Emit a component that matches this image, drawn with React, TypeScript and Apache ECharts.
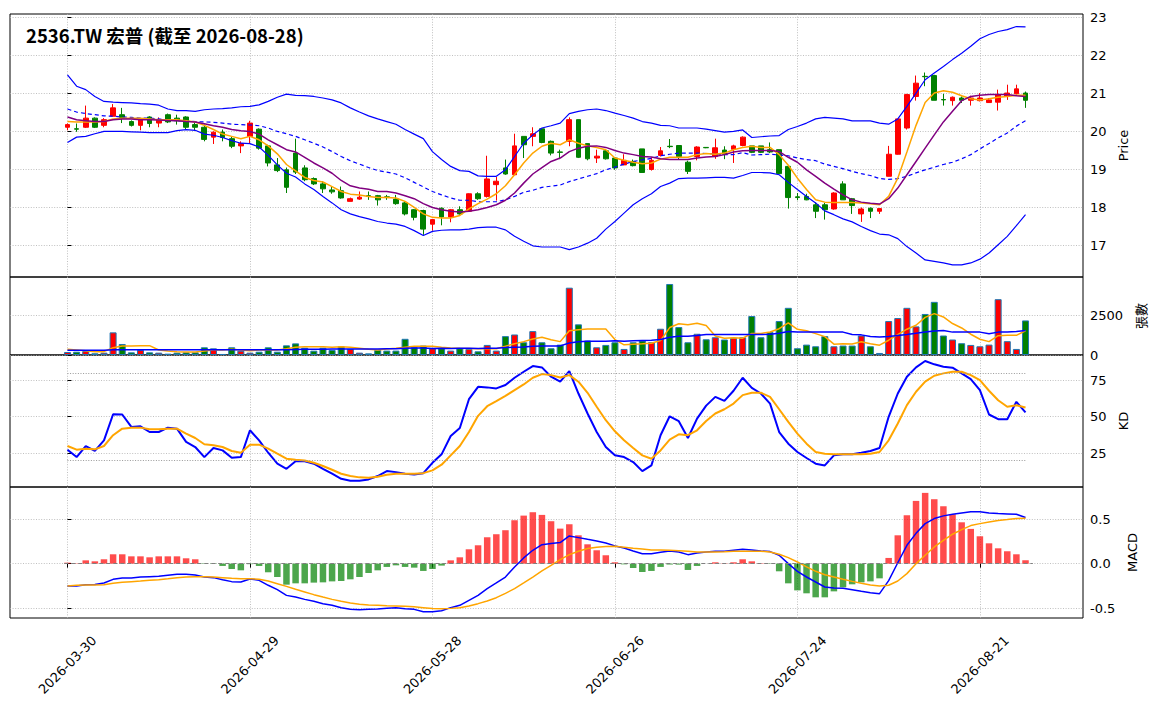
import React, { useEffect, useRef } from 'react';
import * as echarts from 'echarts';

const TITLE = '2536.TW 宏普 (截至 2026-08-28)';
const TICK_INDEX = [0, 20, 40, 60, 80, 100];
const TICK_LABELS = ['2026-03-30', '2026-04-29', '2026-05-28', '2026-06-26', '2026-07-24', '2026-08-21'];
const PRICE_TICKS = [17, 18, 19, 20, 21, 22, 23];
const VOL_TICKS = [0, 2500];
const KD_TICKS = [25, 50, 75];
const MACD_TICKS = [-0.5, 0, 0.5];

const OPEN = [
  20.10, 20.06, 20.10, 20.34, 20.15, 20.39, 20.43, 20.25, 20.15, 20.37,
  20.21, 20.43, 20.34, 20.37, 20.17, 20.10, 19.84, 19.97, 19.80, 19.61,
  19.86, 20.05, 19.61, 19.11, 18.98, 19.42, 19.03, 18.75, 18.61, 18.45,
  18.43, 18.15, 18.21, 18.30, 18.30, 18.27, 18.21, 18.11, 17.93, 17.91,
  17.55, 17.97, 17.74, 17.93, 17.89, 18.35, 18.28, 18.59, 19.03, 18.85,
  19.86, 19.86, 20.06, 19.73, 19.45, 19.73, 20.30, 19.67, 19.29, 19.48,
  19.29, 19.11, 19.20, 19.53, 18.99, 19.36, 19.60, 19.62, 19.18, 19.33,
  19.57, 19.33, 19.50, 19.52, 19.62, 19.61, 19.61, 19.51, 19.51, 19.07,
  18.27, 18.28, 18.06, 18.06, 17.95, 18.61, 18.22, 17.82, 17.97, 17.89,
  18.81, 19.39, 20.08, 20.91, 21.44, 21.46, 20.83, 20.80, 20.87, 20.81,
  20.80, 20.75, 20.76, 20.91, 20.98, 21.00,
];
const CLOSE = [
  20.17, 20.05, 20.34, 20.10, 20.30, 20.61, 20.36, 20.15, 20.30, 20.20,
  20.30, 20.24, 20.27, 20.10, 20.10, 19.78, 19.97, 19.83, 19.60, 19.67,
  20.21, 19.55, 19.16, 18.96, 18.52, 18.92, 18.72, 18.61, 18.48, 18.40,
  18.24, 18.22, 18.26, 18.28, 18.19, 18.25, 18.09, 17.82, 17.73, 17.42,
  17.67, 17.74, 17.93, 17.82, 18.35, 18.22, 18.74, 18.68, 18.87, 19.61,
  19.64, 19.93, 19.70, 19.42, 19.44, 20.30, 19.31, 19.27, 19.34, 19.27,
  19.03, 19.23, 19.09, 18.91, 19.23, 19.48, 19.59, 19.33, 18.94, 19.58,
  19.56, 19.56, 19.39, 19.61, 19.84, 19.44, 19.44, 19.45, 18.88, 18.25,
  18.25, 18.19, 17.89, 17.93, 18.37, 18.19, 18.04, 17.95, 17.89, 17.96,
  19.39, 20.32, 20.96, 21.26, 21.43, 20.81, 20.82, 20.89, 20.81, 20.87,
  20.87, 20.82, 20.96, 21.00, 21.11, 20.81,
];
const LOW = [
  20.02, 19.98, 20.08, 20.08, 20.10, 20.38, 20.21, 20.12, 20.02, 20.10,
  20.10, 20.21, 20.17, 20.04, 20.01, 19.73, 19.66, 19.73, 19.55, 19.42,
  19.68, 19.51, 19.07, 18.92, 18.37, 18.87, 18.68, 18.58, 18.37, 18.35,
  18.22, 18.15, 18.19, 18.19, 18.04, 18.19, 18.06, 17.78, 17.65, 17.27,
  17.38, 17.52, 17.60, 17.80, 17.87, 18.19, 18.25, 18.17, 18.85, 18.85,
  19.29, 19.60, 19.68, 19.36, 19.26, 19.60, 19.29, 19.23, 19.16, 19.25,
  18.98, 19.10, 19.07, 18.91, 18.96, 19.33, 19.55, 19.24, 18.87, 19.23,
  19.55, 19.27, 19.26, 19.16, 19.60, 19.42, 19.42, 19.42, 18.85, 17.96,
  18.18, 18.18, 17.71, 17.67, 17.93, 18.19, 17.82, 17.61, 17.71, 17.82,
  18.81, 19.38, 20.04, 20.80, 21.18, 20.81, 20.67, 20.67, 20.74, 20.67,
  20.78, 20.74, 20.54, 20.82, 20.96, 20.61,
];
const HIGH = [
  20.20, 20.20, 20.67, 20.36, 20.34, 20.71, 20.61, 20.28, 20.34, 20.39,
  20.36, 20.46, 20.43, 20.39, 20.23, 20.17, 19.99, 20.04, 19.86, 19.73,
  20.27, 20.07, 19.64, 19.29, 19.04, 19.80, 19.10, 18.78, 18.68, 18.54,
  18.54, 18.25, 18.41, 18.41, 18.32, 18.32, 18.32, 18.15, 17.95, 17.93,
  17.69, 17.99, 17.95, 18.02, 18.36, 18.39, 19.35, 18.79, 19.25, 19.93,
  19.86, 20.10, 20.08, 19.75, 19.51, 20.36, 20.30, 19.68, 19.51, 19.51,
  19.31, 19.39, 19.25, 19.53, 19.31, 19.58, 19.79, 19.63, 19.22, 19.60,
  19.58, 19.80, 19.60, 19.64, 19.86, 19.61, 19.61, 19.70, 19.51, 19.07,
  18.37, 18.35, 18.12, 18.11, 18.39, 18.68, 18.24, 17.99, 17.99, 17.96,
  19.61, 20.32, 20.98, 21.46, 21.54, 21.48, 20.98, 20.91, 20.91, 20.93,
  21.00, 20.87, 21.09, 21.22, 21.22, 21.04,
];
const BB_UP = [
  21.48, 21.18, 21.09, 20.91, 20.78, 20.76, 20.75, 20.74, 20.72, 20.71,
  20.68, 20.58, 20.54, 20.54, 20.52, 20.56, 20.58, 20.59, 20.61, 20.64,
  20.65, 20.69, 20.78, 20.89, 20.97, 20.94, 20.93, 20.91, 20.87, 20.82,
  20.74, 20.61, 20.50, 20.40, 20.32, 20.25, 20.18, 20.04, 19.92, 19.80,
  19.46, 19.25, 19.07, 18.96, 18.94, 18.82, 18.81, 18.81, 18.98, 19.33,
  19.68, 19.90, 20.08, 20.14, 20.21, 20.46, 20.52, 20.56, 20.58, 20.54,
  20.47, 20.41, 20.34, 20.25, 20.21, 20.15, 20.14, 20.08, 20.08, 20.08,
  20.05, 20.01, 19.97, 19.99, 20.03, 19.83, 19.85, 19.87, 19.88, 20.04,
  20.12, 20.21, 20.32, 20.36, 20.34, 20.32, 20.27, 20.27, 20.27, 20.21,
  20.18, 20.32, 20.65, 21.00, 21.35, 21.53, 21.70, 21.88, 22.05, 22.23,
  22.43, 22.54, 22.62, 22.67, 22.75, 22.74,
];
const BB_MID = [
  20.58, 20.50, 20.46, 20.43, 20.40, 20.39, 20.37, 20.36, 20.34, 20.34,
  20.32, 20.29, 20.27, 20.27, 20.25, 20.24, 20.23, 20.21, 20.18, 20.17,
  20.16, 20.14, 20.08, 19.99, 19.93, 19.86, 19.77, 19.68, 19.58, 19.46,
  19.33, 19.22, 19.13, 19.04, 18.96, 18.92, 18.87, 18.77, 18.65, 18.53,
  18.41, 18.32, 18.24, 18.18, 18.18, 18.14, 18.14, 18.14, 18.19, 18.28,
  18.39, 18.44, 18.52, 18.55, 18.58, 18.67, 18.74, 18.81, 18.88, 18.98,
  19.05, 19.13, 19.20, 19.24, 19.28, 19.35, 19.39, 19.42, 19.42, 19.42,
  19.41, 19.40, 19.38, 19.38, 19.43, 19.37, 19.38, 19.39, 19.37, 19.35,
  19.29, 19.25, 19.22, 19.13, 19.07, 19.01, 18.94, 18.88, 18.83, 18.75,
  18.73, 18.75, 18.81, 18.90, 18.98, 19.05, 19.12, 19.18, 19.27, 19.38,
  19.53, 19.67, 19.82, 19.95, 20.13, 20.27,
];
const BB_LO = [
  19.70, 19.84, 19.86, 19.93, 19.99, 19.99, 19.99, 19.98, 19.97, 19.96,
  19.96, 19.96, 20.01, 20.04, 20.02, 19.92, 19.89, 19.83, 19.75, 19.68,
  19.67, 19.58, 19.36, 19.11, 18.89, 18.79, 18.61, 18.46, 18.28, 18.11,
  17.93, 17.82, 17.75, 17.69, 17.62, 17.58, 17.55, 17.49, 17.38, 17.25,
  17.36, 17.39, 17.40, 17.40, 17.42, 17.46, 17.47, 17.47, 17.40, 17.23,
  17.10, 16.98, 16.95, 16.95, 16.95, 16.88, 16.95, 17.05, 17.18, 17.42,
  17.62, 17.84, 18.06, 18.22, 18.35, 18.54, 18.63, 18.75, 18.76, 18.76,
  18.77, 18.78, 18.78, 18.76, 18.83, 18.91, 18.91, 18.90, 18.85, 18.65,
  18.46, 18.28, 18.11, 17.90, 17.80, 17.69, 17.61, 17.49, 17.38, 17.29,
  17.27, 17.17, 16.96, 16.79, 16.61, 16.57, 16.53, 16.48, 16.48, 16.53,
  16.63, 16.79, 17.01, 17.23, 17.51, 17.80,
];
const MA5 = [
  20.25, 20.24, 20.24, 20.24, 20.25, 20.32, 20.34, 20.34, 20.34, 20.32,
  20.30, 20.30, 20.30, 20.27, 20.24, 20.15, 20.04, 19.92, 19.86, 19.80,
  19.86, 19.77, 19.61, 19.40, 19.12, 18.95, 18.78, 18.70, 18.66, 18.54,
  18.41, 18.34, 18.32, 18.28, 18.25, 18.25, 18.24, 18.15, 17.99, 17.82,
  17.73, 17.71, 17.71, 17.78, 17.95, 18.09, 18.21, 18.35, 18.56, 18.85,
  19.16, 19.42, 19.60, 19.68, 19.64, 19.77, 19.68, 19.61, 19.57, 19.51,
  19.29, 19.23, 19.18, 19.14, 19.16, 19.26, 19.31, 19.31, 19.31, 19.38,
  19.41, 19.39, 19.42, 19.51, 19.57, 19.60, 19.57, 19.57, 19.38, 19.10,
  18.76, 18.46, 18.19, 18.13, 18.12, 18.12, 18.12, 18.11, 18.09, 18.06,
  18.28, 18.76, 19.45, 20.15, 20.75, 21.00, 21.06, 21.02, 20.93, 20.85,
  20.82, 20.85, 20.89, 20.91, 20.94, 20.94,
];
const MA10 = [
  20.37, 20.30, 20.27, 20.25, 20.25, 20.30, 20.32, 20.32, 20.30, 20.30,
  20.29, 20.28, 20.27, 20.25, 20.24, 20.19, 20.14, 20.10, 20.04, 20.01,
  19.99, 19.92, 19.77, 19.64, 19.51, 19.45, 19.31, 19.16, 19.03, 18.89,
  18.70, 18.56, 18.50, 18.47, 18.41, 18.41, 18.37, 18.30, 18.22, 18.09,
  17.99, 17.93, 17.89, 17.87, 17.89, 17.93, 17.99, 18.06, 18.18, 18.37,
  18.63, 18.87, 19.04, 19.20, 19.29, 19.46, 19.55, 19.60, 19.61, 19.57,
  19.49, 19.42, 19.38, 19.33, 19.32, 19.27, 19.25, 19.25, 19.25, 19.29,
  19.32, 19.33, 19.38, 19.45, 19.48, 19.49, 19.49, 19.49, 19.46, 19.31,
  19.18, 18.98, 18.81, 18.63, 18.47, 18.32, 18.19, 18.13, 18.10, 18.08,
  18.22, 18.50, 18.85, 19.20, 19.55, 19.90, 20.24, 20.52, 20.80, 20.91,
  20.94, 20.96, 20.96, 20.96, 20.93, 20.91,
];
const VOL = [
  190, 210, 255, 110, 150, 1440, 700, 170, 320, 170,
  150, 85, 150, 170, 170, 490, 425, 65, 490, 275,
  150, 210, 490, 210, 615, 740, 465, 275, 465, 320,
  550, 380, 150, 105, 320, 280, 280, 1030, 490, 600,
  430, 430, 280, 430, 385, 235, 640, 280, 1200, 1305,
  810, 1520, 810, 430, 660, 4280, 1950, 920, 490, 640,
  810, 385, 810, 920, 810, 1670, 4515, 1775, 810, 1350,
  1000, 1130, 985, 1090, 1130, 2480, 1130, 1455, 2160, 3000,
  430, 660, 555, 1200, 555, 600, 600, 1240, 555, 130,
  2160, 2350, 3000, 1820, 2610, 3380, 1240, 985, 750, 640,
  555, 660, 3550, 880, 385, 2200,
];
const VOL_MA5 = [
  360, 318, 275, 212, 212, 466, 572, 572, 594, 594,
  318, 254, 212, 190, 190, 254, 318, 318, 360, 318,
  275, 318, 318, 318, 400, 488, 530, 530, 530, 488,
  530, 488, 424, 360, 318, 385, 428, 492, 556, 556,
  556, 492, 450, 428, 420, 400, 420, 400, 556, 720,
  850, 1020, 1130, 975, 850, 1540, 1600, 1650, 1660, 1656,
  980, 650, 680, 710, 745, 920, 1745, 1990, 1930, 2020,
  1880, 1210, 1060, 1090, 1070, 1365, 1365, 1460, 1670, 2045,
  1635, 1541, 1361, 1170, 690, 714, 702, 839, 710, 625,
  940, 1290, 1640, 1890, 2390, 2630, 2420, 2000, 1720, 1320,
  1000, 850, 1230, 1260, 1250, 1540,
];
const VOL_MA20 = [
  300, 300, 300, 300, 300, 330, 335, 335, 335, 335,
  335, 335, 335, 335, 335, 335, 335, 335, 335, 330,
  330, 330, 330, 335, 340, 350, 360, 365, 370, 375,
  380, 385, 380, 380, 380, 400, 405, 430, 440, 445,
  420, 425, 420, 430, 425, 420, 430, 430, 470, 500,
  510, 560, 570, 570, 580, 760, 840, 870, 880, 880,
  900, 880, 900, 920, 940, 980, 1130, 1190, 1200, 1240,
  1300, 1300, 1300, 1300, 1310, 1300, 1300, 1320, 1390, 1500,
  1455, 1455, 1455, 1455, 1455, 1455, 1300, 1280, 1180, 1150,
  1170, 1240, 1305, 1390, 1455, 1520, 1560, 1455, 1455, 1455,
  1455, 1350, 1455, 1455, 1500, 1560,
];
const K = [
  27.3, 22.2, 29.8, 26.4, 33.7, 51.6, 51.4, 42.9, 43.3, 39.4,
  39.4, 42.4, 41.7, 32.6, 29.1, 22.2, 28.4, 26.8, 21.8, 22.2,
  40.6, 33.7, 25.2, 17.7, 14.2, 19.3, 19.3, 17.7, 14.2, 10.8,
  7.3, 6.0, 6.0, 6.9, 9.2, 12.6, 11.9, 10.8, 10.3, 11.2,
  18.3, 24.1, 36.7, 42.2, 61.9, 70.4, 70.0, 69.3, 71.6, 76.6,
  80.7, 84.6, 83.7, 77.3, 73.9, 81.2, 65.8, 52.1, 39.4, 29.1,
  23.4, 22.2, 18.8, 12.6, 16.5, 37.2, 50.2, 46.8, 35.3, 48.6,
  57.5, 63.5, 60.8, 67.7, 76.6, 69.7, 65.8, 58.9, 39.4, 31.4,
  25.7, 21.6, 17.7, 16.5, 23.4, 24.1, 24.1, 25.2, 26.4, 28.4,
  49.8, 65.8, 77.3, 83.7, 88.1, 85.8, 84.2, 83.5, 79.6, 75.7,
  68.1, 51.4, 48.2, 48.2, 60.1, 52.8,
];
const D = [
  29.8, 27.3, 28.0, 27.5, 29.8, 37.2, 41.7, 42.4, 42.4, 41.3,
  41.3, 41.7, 41.7, 38.3, 35.3, 31.0, 30.3, 29.1, 26.4, 25.2,
  30.7, 30.7, 28.0, 24.5, 21.1, 20.4, 19.9, 18.3, 16.1, 13.5,
  10.8, 9.2, 8.3, 8.0, 8.7, 10.1, 10.8, 10.8, 10.8, 11.2,
  13.1, 17.0, 23.4, 29.8, 39.4, 50.5, 57.1, 60.6, 64.2, 68.1,
  72.0, 76.6, 79.1, 78.4, 76.8, 78.4, 73.9, 66.3, 56.7, 47.5,
  39.9, 33.7, 28.4, 23.4, 21.1, 26.8, 34.2, 37.8, 37.2, 40.6,
  46.9, 52.1, 55.0, 58.9, 64.7, 66.3, 66.3, 63.5, 55.0, 46.3,
  38.3, 31.4, 25.7, 24.5, 24.1, 24.1, 24.1, 24.1, 24.5, 25.7,
  33.7, 45.2, 57.8, 67.0, 73.9, 78.0, 79.6, 80.7, 80.7, 78.4,
  75.0, 67.7, 61.2, 56.7, 57.8, 56.2,
];
const DIF = [
  -0.251, -0.251, -0.236, -0.233, -0.217, -0.176, -0.161, -0.161, -0.150, -0.146,
  -0.142, -0.131, -0.120, -0.120, -0.127, -0.150, -0.157, -0.180, -0.202, -0.206,
  -0.172, -0.187, -0.243, -0.292, -0.356, -0.375, -0.401, -0.423, -0.449, -0.468,
  -0.494, -0.513, -0.517, -0.513, -0.509, -0.500, -0.494, -0.506, -0.513, -0.539,
  -0.539, -0.528, -0.494, -0.468, -0.412, -0.356, -0.281, -0.217, -0.150, -0.037,
  0.064, 0.150, 0.213, 0.225, 0.236, 0.311, 0.292, 0.273, 0.255, 0.232,
  0.199, 0.176, 0.142, 0.112, 0.112, 0.127, 0.142, 0.131, 0.101, 0.120,
  0.131, 0.139, 0.139, 0.150, 0.161, 0.154, 0.142, 0.135, 0.094, 0.000,
  -0.086, -0.150, -0.206, -0.262, -0.273, -0.277, -0.292, -0.311, -0.326, -0.337,
  -0.190, 0.010, 0.206, 0.340, 0.449, 0.506, 0.536, 0.554, 0.569, 0.581,
  0.581, 0.569, 0.562, 0.558, 0.554, 0.517,
];
const DEA = [
  -0.251, -0.243, -0.240, -0.240, -0.236, -0.221, -0.210, -0.202, -0.195, -0.187,
  -0.180, -0.169, -0.157, -0.150, -0.146, -0.146, -0.150, -0.157, -0.165, -0.169,
  -0.169, -0.176, -0.195, -0.225, -0.255, -0.288, -0.318, -0.348, -0.375, -0.401,
  -0.423, -0.442, -0.457, -0.464, -0.468, -0.472, -0.475, -0.478, -0.485, -0.494,
  -0.503, -0.506, -0.502, -0.494, -0.476, -0.449, -0.419, -0.382, -0.333, -0.281,
  -0.217, -0.150, -0.082, -0.019, 0.045, 0.101, 0.139, 0.169, 0.184, 0.191,
  0.195, 0.184, 0.172, 0.165, 0.154, 0.154, 0.150, 0.146, 0.139, 0.131,
  0.131, 0.131, 0.133, 0.139, 0.139, 0.139, 0.139, 0.131, 0.105, 0.067,
  0.019, -0.037, -0.086, -0.124, -0.150, -0.176, -0.199, -0.221, -0.240, -0.251,
  -0.243, -0.195, -0.112, 0.000, 0.094, 0.187, 0.262, 0.330, 0.382, 0.427,
  0.449, 0.468, 0.483, 0.494, 0.506, 0.509,
];
const HIST = [
  0.011, 0.004, 0.037, 0.026, 0.049, 0.105, 0.105, 0.082, 0.082, 0.071,
  0.082, 0.082, 0.082, 0.060, 0.049, -0.004, -0.004, -0.026, -0.060, -0.075,
  -0.006, -0.026, -0.097, -0.150, -0.236, -0.221, -0.221, -0.213, -0.210, -0.199,
  -0.195, -0.176, -0.150, -0.105, -0.075, -0.037, -0.019, -0.037, -0.045, -0.082,
  -0.060, -0.022, 0.037, 0.071, 0.161, 0.206, 0.296, 0.330, 0.375, 0.487,
  0.539, 0.577, 0.547, 0.476, 0.393, 0.442, 0.318, 0.217, 0.150, 0.094,
  0.015, -0.008, -0.049, -0.094, -0.082, -0.037, -0.010, -0.011, -0.071, -0.026,
  0.000, 0.015, 0.004, 0.015, 0.049, 0.026, 0.004, -0.004, -0.086, -0.221,
  -0.300, -0.333, -0.378, -0.378, -0.311, -0.266, -0.232, -0.210, -0.199, -0.165,
  0.064, 0.318, 0.543, 0.704, 0.794, 0.723, 0.644, 0.554, 0.464, 0.390,
  0.307, 0.228, 0.172, 0.139, 0.105, 0.037,
];

const FONT = '"DejaVu Sans", sans-serif';
const CJK = '"Noto Sans CJK TC", "Noto Sans CJK SC", sans-serif';
const GRID_LINE = { color: '#b0b0b0', width: 0.8, type: [1, 1.6] as number[] };
const X_MIN = -6.3;
const X_MAX = 111.3;

const pairs = (arr: number[]) => arr.map((v, i) => [i, v]);

function makeLine(data: number[], idx: number, color: string, width: number, type: any = 'solid', extra: any = {}) {
  return {
    type: 'line',
    xAxisIndex: idx,
    yAxisIndex: idx,
    data: pairs(data),
    symbol: 'none',
    silent: true,
    lineStyle: { color, width, type },
    itemStyle: { color },
    emphasis: { disabled: true },
    ...extra,
  };
}

export default function App() {
  const ref = useRef<HTMLDivElement>(null);

  useEffect(() => {
    document.body.style.margin = '0';
    const chart = echarts.init(ref.current as HTMLDivElement, null, { renderer: 'svg' });

    const gridBoxes = [
      { top: 14, height: 263 },
      { top: 277, height: 78 },
      { top: 355, height: 132 },
      { top: 487, height: 131 },
    ];
    const grid = gridBoxes.map((g) => ({
      left: 10,
      width: 1073,
      top: g.top,
      height: g.height,
      show: true,
      borderColor: '#000',
      borderWidth: 1,
      backgroundColor: 'transparent',
      containLabel: false,
      outerBoundsMode: 'none',
    }));

    const xAxis = gridBoxes.map((_, k) => ({
      type: 'value',
      gridIndex: k,
      min: X_MIN,
      max: X_MAX,
      axisLine: { show: false },
      axisTick: {
        show: k === 3,
        customValues: TICK_INDEX,
        length: 4,
        lineStyle: { color: '#000', width: 1 },
      },
      axisLabel: {
        show: k === 3,
        customValues: TICK_INDEX,
        formatter: (v: number) => {
          const j = TICK_INDEX.indexOf(Math.round(v));
          return j >= 0 ? TICK_LABELS[j] : '';
        },
        rotate: 45,
        align: 'center',
        verticalAlign: 'middle',
        margin: 47,
        color: '#000',
        fontSize: 13,
        fontFamily: FONT,
      },
      splitLine: { show: true, lineStyle: GRID_LINE },
    }));

    const yBase = (k: number, min: number, max: number, ticks: number[], name: string, nameGap: number, fmt: (v: number) => string, nameFont: string) => ({
      type: 'value',
      gridIndex: k,
      position: 'right',
      min,
      max,
      axisLine: { show: false },
      axisTick: { show: true, customValues: ticks, length: 4, lineStyle: { color: '#000', width: 1 } },
      axisLabel: { customValues: ticks, formatter: fmt, color: '#000', fontSize: 13, fontFamily: FONT, margin: 7 },
      splitLine: { show: true, lineStyle: GRID_LINE },
      name,
      nameLocation: 'middle',
      nameRotate: 90,
      nameGap,
      nameTextStyle: { color: '#000', fontSize: 13, fontFamily: nameFont },
    });

    const yAxis = [
      yBase(0, 16.16, 23.08, PRICE_TICKS, 'Price', 32, (v) => String(Math.round(v)), FONT),
      yBase(1, 0, 4960, VOL_TICKS, '張數', 48, (v) => String(Math.round(v)), CJK),
      yBase(2, 1.7, 92.2, KD_TICKS, 'KD', 31, (v) => String(Math.round(v)), FONT),
      yBase(3, -0.61, 0.86, MACD_TICKS, 'MACD', 41, (v) => v.toFixed(1), FONT),
    ];

    const candleData = OPEN.map((o, i) => [i, o, CLOSE[i], LOW[i], HIGH[i]]);
    const volData = VOL.map((v, i) => ({
      value: [i, v],
      itemStyle: { color: CLOSE[i] >= OPEN[i] ? '#ff0000' : '#008000' },
    }));
    const histData = HIST.map((v, i) => ({
      value: [i, v],
      itemStyle: { color: v >= 0 ? 'rgba(255,0,0,0.7)' : 'rgba(0,128,0,0.7)' },
    }));

    const series: any[] = [
      {
        type: 'candlestick',
        xAxisIndex: 0,
        yAxisIndex: 0,
        data: candleData,
        barWidth: 5.2,
        silent: true,
        itemStyle: {
          color: '#ff0000',
          color0: '#008000',
          borderColor: '#ff0000',
          borderColor0: '#008000',
          borderWidth: 1,
        },
      },
      makeLine(BB_UP, 0, '#0000ff', 1.2),
      makeLine(BB_MID, 0, '#0000ff', 1.2, [4, 3]),
      makeLine(BB_LO, 0, '#0000ff', 1.2),
      makeLine(MA5, 0, '#ffa500', 1.5),
      makeLine(MA10, 0, '#800080', 1.5),
      {
        type: 'bar',
        xAxisIndex: 1,
        yAxisIndex: 1,
        data: volData,
        barWidth: 7,
        silent: true,
        itemStyle: { borderColor: '#1f77b4', borderWidth: 1 },
      },
      makeLine(VOL_MA5, 1, '#ffa500', 1.5),
      makeLine(VOL_MA20, 1, '#0000ff', 1.5),
      makeLine(K, 2, '#0000ff', 2, 'solid', {
        markLine: {
          silent: true,
          symbol: ['none', 'none'],
          label: { show: false },
          lineStyle: { color: '#999999', type: [1, 1.6], width: 1 },
          data: [
            [{ coord: [0, 80] }, { coord: [105, 80] }],
            [{ coord: [0, 20] }, { coord: [105, 20] }],
          ],
        },
      }),
      makeLine(D, 2, '#ffa500', 2),
      {
        type: 'bar',
        xAxisIndex: 3,
        yAxisIndex: 3,
        data: histData,
        barWidth: 6.5,
        silent: true,
      },
      makeLine(DIF, 3, '#0000ff', 1.5, 'solid', {
        markLine: {
          silent: true,
          symbol: ['none', 'none'],
          label: { show: false },
          lineStyle: { color: '#808080', type: [4, 3], width: 1 },
          data: [[{ coord: [-0.35, 0] }, { coord: [105.8, 0] }]],
        },
      }),
      makeLine(DEA, 3, '#ffa500', 1.5),
    ];

    chart.setOption({
      animation: false,
      backgroundColor: '#ffffff',
      grid,
      xAxis,
      yAxis,
      series,
      graphic: [
        {
          type: 'text',
          x: 26,
          y: 35,
          z: 100,
          style: {
            text: TITLE,
            fontSize: 18.5,
            fontWeight: 'bold',
            fontFamily: CJK,
            fill: '#000',
            align: 'left',
            verticalAlign: 'middle',
          },
        },
      ],
    });

    return () => chart.dispose();
  }, []);

  return <div ref={ref} style={{ width: 1156, height: 703 }} />;
}
